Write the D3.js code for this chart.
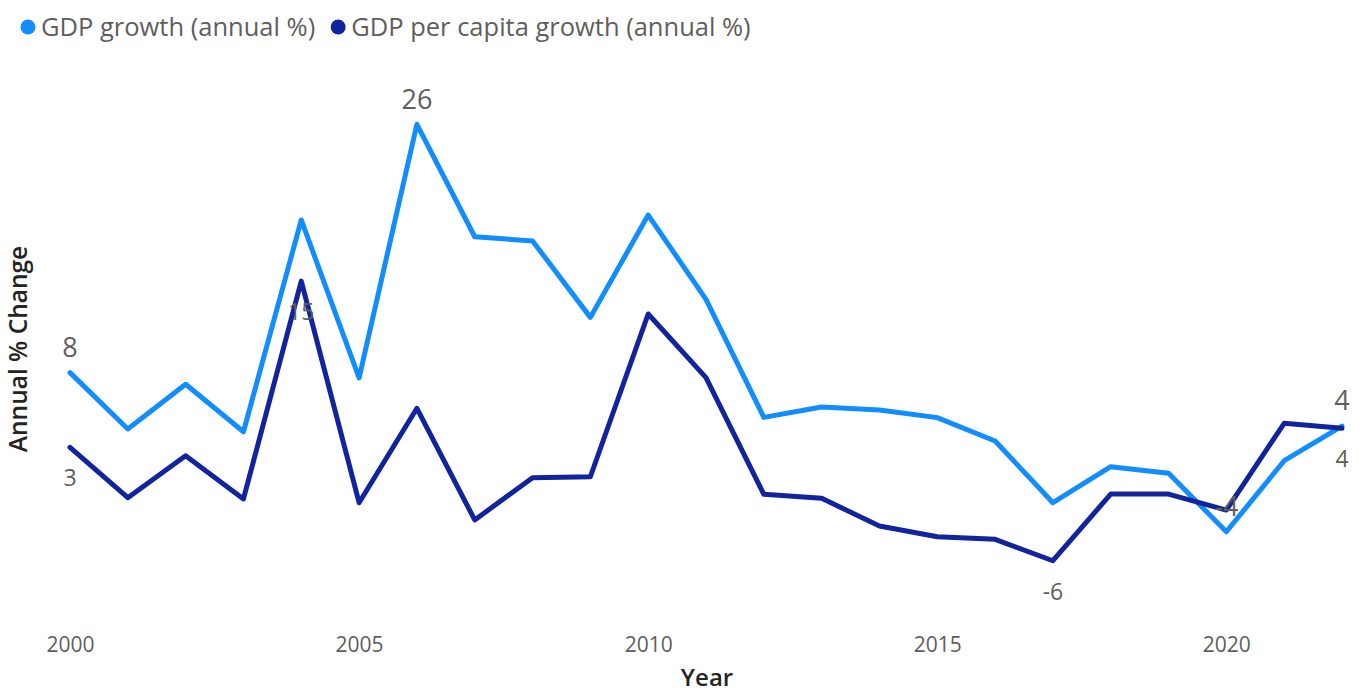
<!DOCTYPE html>
<html>
<head>
<meta charset="utf-8">
<script src="https://cdn.jsdelivr.net/npm/d3@7"></script>
<style>
  body { margin: 0; background: #fff; }
  svg { display: block; font-family: "Open Sans", sans-serif; }
</style>
</head>
<body>
<div class="chart"></div>
<script>
const width = 1366;
const height = 694;

const years = d3.range(2000, 2023);
const gdpGrowth = [8.07, 3.91, 7.21, 3.71, 19.34, 7.68, 26.4, 18.1, 17.79, 12.15, 19.7, 13.48,
   4.77, 5.54, 5.31, 4.75, 3.03, -1.53, 1.13, 0.64, -3.67, 1.57, 4.13];
const perCapitaGrowth = [2.56, -1.16, 1.94, -1.25, 14.83, -1.53, 5.44, -2.8, 0.32, 0.39, 12.4, 7.7,
   -0.91, -1.2, -3.25, -4.04, -4.23, -5.81, -0.89, -0.89, -2.07, 4.33, 3.96];
const seriesNames = ["GDP growth (annual %)", "GDP per capita growth (annual %)"];
const colors = ["#118DFF", "#12239E"];
const xTicks = [2000, 2005, 2010, 2015, 2020];

const svg = d3
   .select(".chart")
   .append("svg")
   .attr("width", width)
   .attr("height", height);

const x = d3.scaleLinear().domain([2000, 2022]).range([70, 1342]);
const y = d3.scaleLinear().domain([-10, 30]).range([617.5, 75.5]);

// legend
const legend = svg.append("g").attr("transform", "translate(0, 27)");
let lx = 28;
seriesNames.forEach((name, i) => {
   legend.append("circle").attr("cx", lx).attr("cy", 0).attr("r", 7.5).attr("fill", colors[i]);
   const t = legend.append("text")
      .attr("x", lx + 13)
      .attr("y", 0)
      .attr("dy", "0.35em")
      .attr("fill", "#605E5C")
      .style("font-size", "25.5px")
      .text(name);
   lx += 13 + t.node().getComputedTextLength() + 23;
});

// x axis
const xAxis = d3.axisBottom(x).tickValues(xTicks).tickFormat(d3.format("d")).tickSize(0).tickPadding(0);
const gx = svg.append("g").attr("transform", "translate(0, 645)").call(xAxis);
gx.select(".domain").remove();
gx.selectAll("text")
   .attr("dy", "0.35em")
   .attr("fill", "#605E5C")
   .style("font-size", "21px")
   .style("font-family", "'Open Sans', sans-serif");

// axis titles
svg.append("text")
   .attr("x", 707)
   .attr("y", 678)
   .attr("dy", "0.35em")
   .attr("text-anchor", "middle")
   .attr("fill", "#252423")
   .style("font-size", "24px")
   .style("font-weight", "600")
   .text("Year");

svg.append("text")
   .attr("transform", "translate(18, 349) rotate(-90)")
   .attr("dy", "0.35em")
   .attr("text-anchor", "middle")
   .attr("fill", "#252423")
   .style("font-size", "24.5px")
   .style("font-weight", "600")
   .text("Annual % Change");

// lines
const line = d3.line().x((d, i) => x(years[i])).y((d) => y(d));
[gdpGrowth, perCapitaGrowth].forEach((vals, i) => {
   svg.append("path")
      .datum(vals)
      .attr("d", line)
      .attr("fill", "none")
      .attr("stroke", colors[i])
      .attr("stroke-width", 5)
      .attr("stroke-linejoin", "round")
      .attr("stroke-linecap", "round");
});

// data labels: first, max, min, last
function labelIdx(vals) {
   return [0, d3.maxIndex(vals), d3.minIndex(vals), vals.length - 1];
}
const fmt = (v) => String(Math.round(v));
labelIdx(gdpGrowth).forEach((i) => {
   svg.append("text")
      .attr("x", x(years[i]))
      .attr("y", y(gdpGrowth[i]) - 25)
      .attr("dy", "0.35em")
      .attr("text-anchor", "middle")
      .attr("fill", "#605E5C")
      .style("font-size", "27px")
      .text(fmt(gdpGrowth[i]));
});
labelIdx(perCapitaGrowth).forEach((i) => {
   svg.append("text")
      .attr("x", x(years[i]))
      .attr("y", y(perCapitaGrowth[i]) + 31)
      .attr("dy", "0.35em")
      .attr("text-anchor", "middle")
      .attr("fill", "#605E5C")
      .style("font-size", "23px")
      .text(fmt(perCapitaGrowth[i]));
});
</script>
</body>
</html>
